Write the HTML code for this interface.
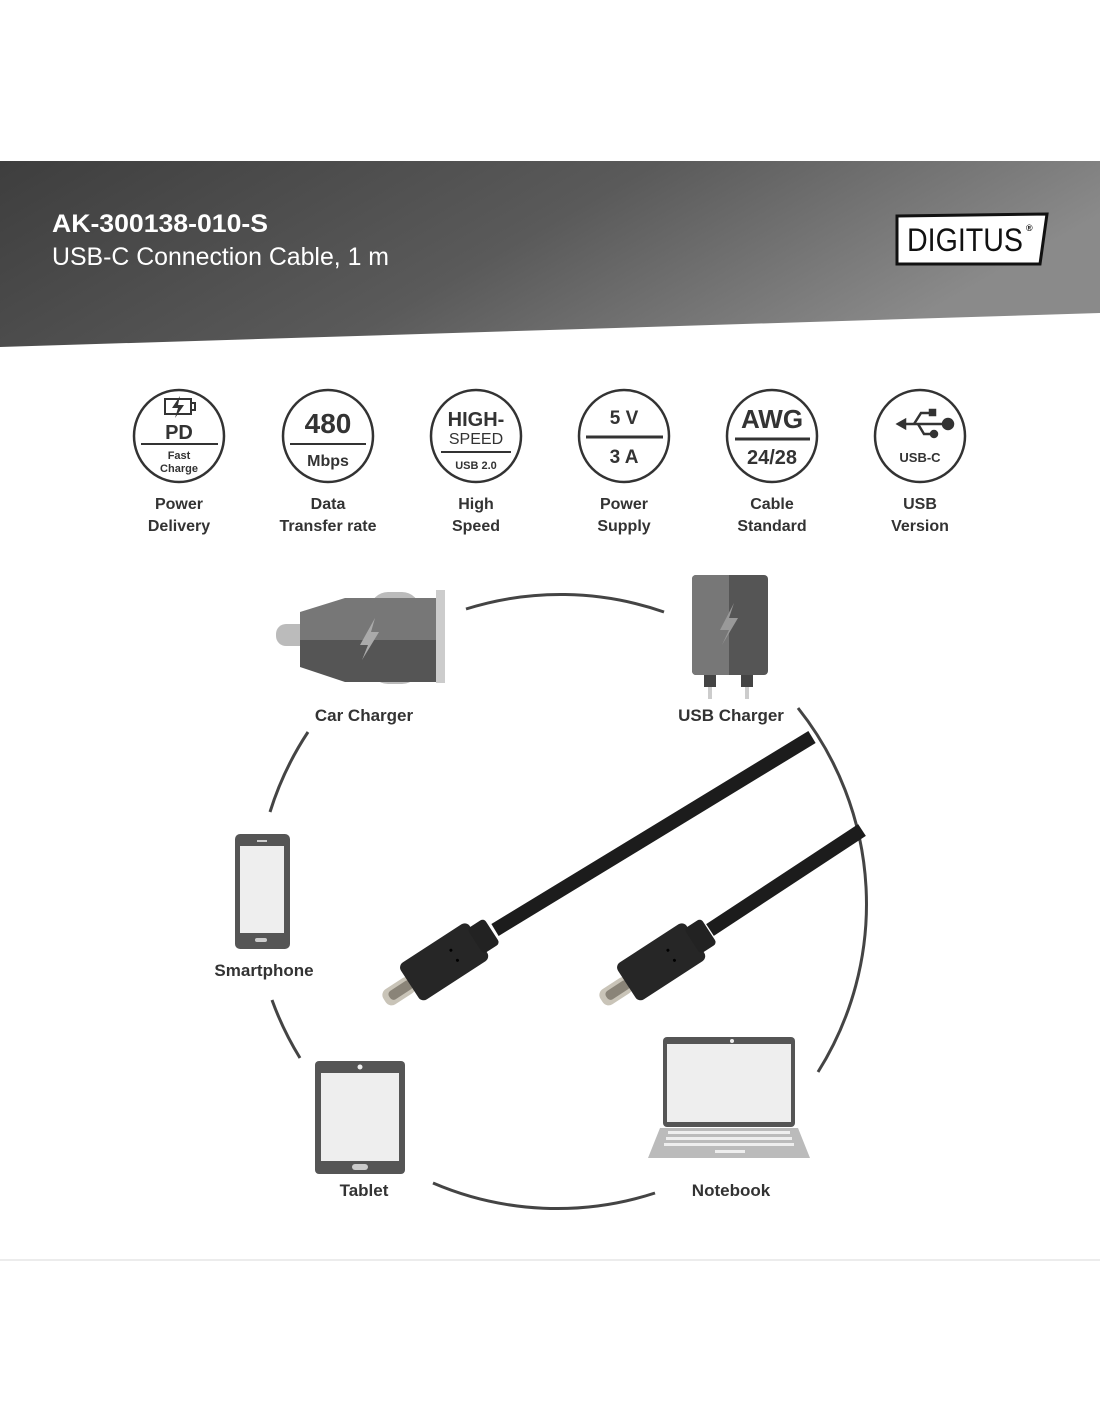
<!DOCTYPE html>
<html><head><meta charset="utf-8"><style>
html,body{margin:0;padding:0;background:#fff;}
svg{display:block;}
text{font-family:"Liberation Sans Narrow","Liberation Sans",sans-serif;font-weight:bold;}
</style></head><body>
<svg width="1100" height="1422" viewBox="0 0 1100 1422" xmlns="http://www.w3.org/2000/svg">
<defs>
<linearGradient id="bg" x1="0" y1="0" x2="1" y2="0.3">
<stop offset="0" stop-color="#3e3e3e"/><stop offset="0.55" stop-color="#5a5a5a"/><stop offset="1" stop-color="#8a8a8a"/>
</linearGradient>
</defs>
<rect width="1100" height="1422" fill="#fff"/>
<polygon points="0,161 1100,161 1100,313 0,347" fill="url(#bg)"/>
<text x="52" y="232" fill="#fff" font-size="25" textLength="216" lengthAdjust="spacingAndGlyphs">AK-300138-010-S</text>
<text x="52" y="265" fill="#fff" font-size="25" style="font-weight:normal" textLength="337" lengthAdjust="spacingAndGlyphs">USB-C Connection Cable, 1 m</text>
<!-- logo -->
<polygon points="897,216 1047,214 1040,264 897,264" fill="#fff" stroke="#111" stroke-width="3"/>
<text x="907" y="251" font-size="32" fill="#111" style="font-weight:normal" textLength="116" lengthAdjust="spacingAndGlyphs">DIGITUS</text>
<text x="1026" y="231" font-size="9" fill="#111">®</text>

<!-- icons -->
<g fill="none" stroke="#333" stroke-width="2.5">
<ellipse cx="179" cy="436" rx="45" ry="46"/>
<ellipse cx="328" cy="436" rx="45" ry="46"/>
<ellipse cx="476" cy="436" rx="45" ry="46"/>
<ellipse cx="624" cy="436" rx="45" ry="46"/>
<ellipse cx="772" cy="436" rx="45" ry="46"/>
<ellipse cx="920" cy="436" rx="45" ry="46"/>
</g>
<g stroke="#333" stroke-width="2">
<line x1="141" y1="444" x2="218" y2="444"/>
<line x1="290" y1="444" x2="366" y2="444"/>
<line x1="441" y1="452" x2="511" y2="452"/>
<line x1="586" y1="437" x2="663" y2="437" stroke-width="3"/>
<line x1="735" y1="439" x2="810" y2="439" stroke-width="3"/>
</g>
<g fill="#333" text-anchor="middle">
<text x="179" y="439" font-size="20">PD</text>
<text x="179" y="459" font-size="11">Fast</text>
<text x="179" y="472" font-size="11">Charge</text>
<text x="328" y="433" font-size="28">480</text>
<text x="328" y="466" font-size="16">Mbps</text>
<text x="476" y="426" font-size="20">HIGH-</text>
<text x="476" y="444" font-size="16" style="font-weight:normal">SPEED</text>
<text x="476" y="469" font-size="11">USB 2.0</text>
<text x="624" y="424" font-size="19">5 V</text>
<text x="624" y="463" font-size="19">3 A</text>
<text x="772" y="428" font-size="26">AWG</text>
<text x="772" y="464" font-size="20">24/28</text>
<text x="920" y="462" font-size="13">USB-C</text>
</g>
<g fill="none" stroke="#333" stroke-width="2"><rect x="165" y="399" width="26" height="15"/><rect x="191" y="403" width="4" height="7"/></g>
<polygon points="180,396 172,408 178,408 175,418 184,405 178,405" fill="#333"/>
<g stroke="#333" stroke-width="2.5" fill="#333">
<line x1="902" y1="424" x2="945" y2="424"/>
<polyline points="914,424 921,413 930,413" fill="none"/>
<polyline points="918,424 924,434 932,434" fill="none"/>
<circle cx="948" cy="424" r="5"/>
<polygon points="898,424 905,420 905,428"/>
<rect x="930" y="410" width="5" height="5"/>
<circle cx="934" cy="434" r="3"/>
</g>
<g fill="#333" font-size="16" text-anchor="middle">
<text x="179" y="509">Power</text><text x="179" y="531">Delivery</text>
<text x="328" y="509">Data</text><text x="328" y="531">Transfer rate</text>
<text x="476" y="509">High</text><text x="476" y="531">Speed</text>
<text x="624" y="509">Power</text><text x="624" y="531">Supply</text>
<text x="772" y="509">Cable</text><text x="772" y="531">Standard</text>
<text x="920" y="509">USB</text><text x="920" y="531">Version</text>
</g>

<g fill="none" stroke="#444" stroke-width="3">
<path d="M466,609 A315 315 0 0 1 664,612"/>
<path d="M798,708 A315 315 0 0 1 818,1072"/>
<path d="M655,1193 A315 315 0 0 1 433,1183"/>
<path d="M300,1058 A315 315 0 0 1 272,1000"/>
<path d="M270,812 A315 315 0 0 1 308,732"/>
</g>

<rect x="276" y="624" width="50" height="22" rx="10" fill="#bbb"/>
<rect x="370" y="592" width="50" height="92" rx="18" fill="#bbb"/>
<polygon points="300,612 345,598 437,598 437,640 300,640" fill="#777"/>
<polygon points="300,640 437,640 437,682 345,682 300,667" fill="#555"/>
<rect x="436" y="590" width="9" height="93" fill="#ccc"/>
<polygon points="375,618 360,645 368,645 362,660 379,632 371,632" fill="#aaa"/>
<rect x="692" y="575" width="76" height="100" rx="4" fill="#555"/>
<path d="M696,575 h33 v100 h-33 a4 4 0 0 1 -4 -4 v-92 a4 4 0 0 1 4 -4z" fill="#777"/>
<polygon points="734,603 720,630 729,630 722,645 738,618 729,618" fill="#999"/>
<rect x="704" y="675" width="12" height="12" fill="#444"/><rect x="741" y="675" width="12" height="12" fill="#444"/>
<rect x="708" y="687" width="4" height="12" fill="#ccc"/><rect x="745" y="687" width="4" height="12" fill="#ccc"/>
<g fill="#333" font-size="17" text-anchor="middle">
<text x="364" y="721">Car Charger</text>
<text x="731" y="721">USB Charger</text>
<text x="264" y="976">Smartphone</text>
<text x="364" y="1196">Tablet</text>
<text x="731" y="1196">Notebook</text>
</g>
<rect x="235" y="834" width="55" height="115" rx="5" fill="#555"/>
<rect x="240" y="846" width="44" height="87" fill="#eee"/>
<rect x="257" y="840" width="10" height="2" fill="#ccc"/>
<rect x="255" y="938" width="12" height="4" rx="2" fill="#ccc"/>
<rect x="315" y="1061" width="90" height="113" rx="4" fill="#555"/>
<rect x="321" y="1073" width="78" height="88" fill="#eee"/>
<circle cx="360" cy="1067" r="2.5" fill="#eee"/>
<rect x="352" y="1164" width="16" height="6" rx="3" fill="#ccc"/>
<rect x="663" y="1037" width="132" height="90" rx="4" fill="#555"/>
<rect x="667" y="1044" width="124" height="78" fill="#eee"/>
<circle cx="732" cy="1041" r="2" fill="#eee"/>
<polygon points="660,1128 798,1128 810,1158 648,1158" fill="#bbb"/>
<g fill="#eee"><rect x="668" y="1131" width="122" height="3"/><rect x="666" y="1137" width="126" height="3"/><rect x="664" y="1143" width="130" height="3"/><rect x="715" y="1150" width="30" height="3"/></g>

<g stroke="#1c1c1c" stroke-width="14" stroke-linecap="butt">
<line x1="495" y1="930" x2="812" y2="737"/>
<line x1="710" y1="930" x2="862" y2="830"/>
</g>
<g transform="translate(450,958) rotate(-33)">
<rect x="-78" y="-9" width="34" height="18" rx="7" fill="#c9c4b8"/>
<rect x="-72" y="-5" width="26" height="10" rx="4" fill="#8a8478"/>
<rect x="-48" y="-22" width="82" height="44" rx="6" fill="#262626"/>
<rect x="30" y="-15" width="20" height="30" rx="4" fill="#222"/>
<circle cx="5" cy="-6" r="1.5" fill="#000"/><circle cx="5" cy="6" r="1.5" fill="#000"/>
</g>
<g transform="translate(667,958) rotate(-33)">
<rect x="-78" y="-9" width="34" height="18" rx="7" fill="#c9c4b8"/>
<rect x="-72" y="-5" width="26" height="10" rx="4" fill="#8a8478"/>
<rect x="-48" y="-22" width="82" height="44" rx="6" fill="#262626"/>
<rect x="30" y="-15" width="20" height="30" rx="4" fill="#222"/>
<circle cx="5" cy="-6" r="1.5" fill="#000"/><circle cx="5" cy="6" r="1.5" fill="#000"/>
</g>

<line x1="0" y1="1260" x2="1100" y2="1260" stroke="#e6e6e6" stroke-width="1.5"/>
</svg>
</body></html>
